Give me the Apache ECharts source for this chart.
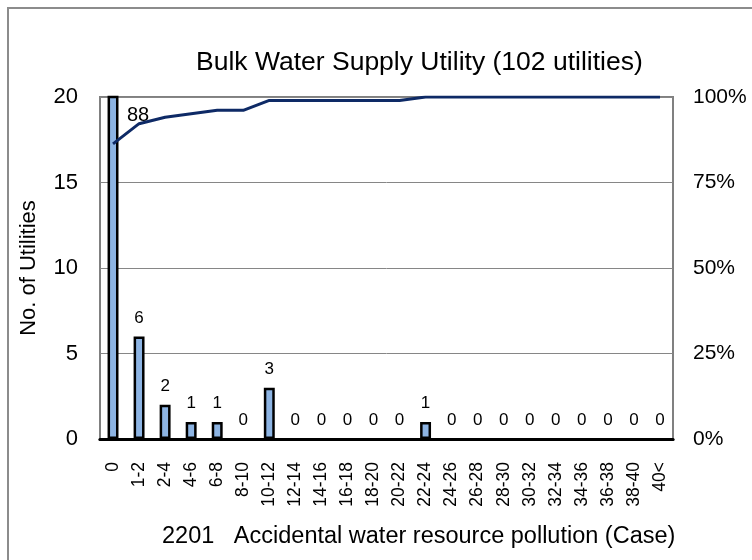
<!DOCTYPE html>
<html>
<head>
<meta charset="utf-8">
<title>Bulk Water Supply Utility</title>
<script src="https://cdn.jsdelivr.net/npm/echarts@6/dist/echarts.min.js"></script>
<style>
  html, body { margin: 0; padding: 0; background: #fff; }
  #chart { width: 752px; height: 560px; }
</style>
</head>
<body>
<div id="chart"></div>
<script>
// categories (cases per utility)
const categories = ['0', '1-2', '2-4', '4-6', '6-8', '8-10', '10-12', '12-14', '14-16', '16-18', '18-20',
  '20-22', '22-24', '24-26', '26-28', '28-30', '30-32', '32-34', '34-36', '36-38', '38-40', '40<']
// number of utilities per category
const utilities = [88, 6, 2, 1, 1, 0, 3, 0, 0, 0, 0, 0, 1, 0, 0, 0, 0, 0, 0, 0, 0, 0]
// cumulative share (%)
const cumulative = [86.3, 92.2, 94.1, 95.1, 96.1, 96.1, 99.0, 99.0, 99.0, 99.0, 99.0, 99.0, 100, 100,
  100, 100, 100, 100, 100, 100, 100, 100]
const leftTicks = [0, 20, 5]
const rightTicks = [0, 100, 25]

const font = 'Liberation Sans, Arial, sans-serif'
const chart = echarts.init(document.getElementById('chart'))

// bar items: the clipped first bar gets its label inside, empty bars draw no outline
const barData = utilities.map((v, i) => {
  if (i === 0) {
    return { value: v, label: { position: 'insideTop', offset: [25, 0], fontSize: 20 } }
  }
  if (v === 0) {
    return { value: v, itemStyle: { borderWidth: 0 } }
  }
  return v
})

chart.setOption({
  animation: false,
  backgroundColor: '#fff',
  textStyle: { fontFamily: font, color: '#000' },
  graphic: [
    {
      type: 'rect',
      shape: { x: 8, y: 8, width: 800, height: 600 },
      style: { fill: 'none', stroke: '#8c8c8c', lineWidth: 2 },
      silent: true
    }
  ],
  title: [
    {
      text: 'Bulk Water Supply Utility (102 utilities)',
      left: 196,
      top: 49,
      padding: 0,
      textStyle: { fontFamily: font, fontSize: 26.5, fontWeight: 'normal', color: '#000' }
    },
    {
      text: '2201   Accidental water resource pollution (Case)',
      left: 162,
      top: 525,
      padding: 0,
      textStyle: { fontFamily: font, fontSize: 23.5, fontWeight: 'normal', color: '#000' }
    }
  ],
  grid: {
    left: 100,
    right: 79,
    top: 97,
    bottom: 121,
    show: true,
    borderColor: '#808080',
    borderWidth: 2
  },
  xAxis: [
    {
      type: 'category',
      data: categories,
      axisTick: { show: false },
      axisLine: { lineStyle: { color: '#5a5a5a', width: 3 } },
      axisLabel: { rotate: 90, interval: 0, margin: 23, fontSize: 17.5, color: '#000', fontFamily: font }
    },
    {
      type: 'category',
      data: categories,
      position: 'top',
      axisTick: { show: false },
      axisLabel: { show: false },
      axisLine: { lineStyle: { color: '#000', width: 3 } }
    }
  ],
  yAxis: [
    {
      type: 'value',
      min: leftTicks[0],
      max: leftTicks[1],
      interval: leftTicks[2],
      name: 'No. of Utilities',
      nameLocation: 'middle',
      nameGap: 60,
      nameTextStyle: { fontSize: 22, color: '#000', fontFamily: font },
      axisLine: { show: false },
      axisTick: { show: false },
      axisLabel: { margin: 22, fontSize: 22, color: '#000', fontFamily: font },
      splitLine: { lineStyle: { color: '#868686', width: 1 } }
    },
    {
      type: 'value',
      min: rightTicks[0],
      max: rightTicks[1],
      interval: rightTicks[2],
      position: 'right',
      axisLine: { show: false },
      axisTick: { show: false },
      splitLine: { show: false },
      axisLabel: { margin: 20, fontSize: 21, color: '#000', fontFamily: font, formatter: '{value}%' }
    }
  ],
  series: [
    {
      name: 'Utilities',
      type: 'bar',
      clip: true,
      barWidth: '42%',
      data: barData,
      itemStyle: { color: '#8db4e3', borderColor: '#000', borderWidth: 2.5 },
      label: { show: true, position: 'top', distance: 10, fontSize: 17, color: '#000', fontFamily: font }
    },
    {
      name: 'Cumulative',
      type: 'line',
      yAxisIndex: 1,
      data: cumulative,
      symbol: 'none',
      lineStyle: { color: '#0e2a66', width: 3 },
      z: 3
    }
  ]
})
</script>
</body>
</html>
